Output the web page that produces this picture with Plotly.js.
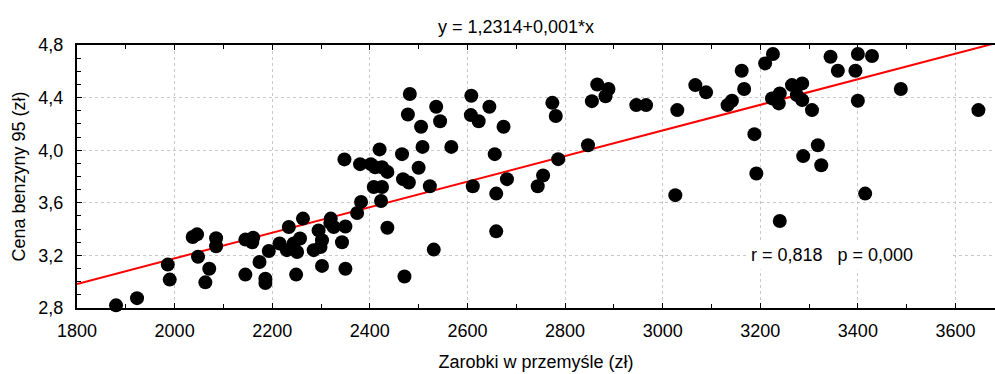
<!DOCTYPE html>
<html>
<head>
<meta charset="utf-8">
<script src="https://cdn.plot.ly/plotly-3.0.1.min.js"></script>
<style>html,body{margin:0;padding:0;background:#fff;}#chart{width:995px;height:374px;}</style>
</head>
<body>
<div id="chart"></div>
<script>
// Data
const wages = [
  1880, 1923, 1986, 1990, 2037, 2046, 2048, 2071, 2063, 2085, 2085,
  2145, 2145, 2161, 2159, 2174, 2186, 2186, 2193, 2215, 2234, 2230,
  2244, 2251, 2257, 2263, 2249, 2285, 2295, 2302, 2299, 2302,
  2320, 2326, 2319, 2343, 2350, 2350, 2348, 2374, 2382, 2380,
  2402, 2411, 2425, 2436, 2420, 2408, 2425, 2423, 2436,
  2466, 2468, 2480, 2471, 2482, 2478, 2500, 2505, 2508, 2523, 2531,
  2536, 2544, 2567, 2608, 2607, 2623, 2611, 2645, 2656, 2659, 2659,
  2674, 2681, 2744, 2755, 2774, 2781, 2786, 2847, 2855, 2866, 2883, 2889,
  2946, 2966, 3030, 3026, 3067, 3089, 3133, 3142, 3162, 3167, 3188, 3192,
  3210, 3226, 3224, 3240, 3238, 3240, 3265, 3286, 3275, 3286, 3306, 3288,
  3318, 3325, 3344, 3359, 3400, 3395, 3400, 3429, 3415, 3488, 3647
];
const prices = [
  2.82, 2.875, 3.13, 3.016, 3.34, 3.36, 3.19, 3.098, 2.995, 3.33, 3.27,
  3.054, 3.32, 3.335, 3.30, 3.15, 3.023, 2.99, 3.233, 3.29, 3.416, 3.24,
  3.29, 3.226, 3.328, 3.48, 3.054, 3.24, 3.39, 3.315, 3.264, 3.12,
  3.48, 3.416, 3.447, 3.30, 3.42, 3.099, 3.93, 3.523, 3.607, 3.894,
  3.894, 3.87, 3.87, 3.835, 4.006, 3.72, 3.72, 3.614, 3.41,
  3.97, 3.78, 3.754, 3.04, 4.427, 4.272, 3.866, 4.178, 4.025, 3.726, 3.244,
  4.33, 4.22, 4.025, 4.414, 4.267, 4.22, 3.726, 4.33, 3.97, 3.67, 3.383,
  4.178, 3.78, 3.726, 3.808, 4.36, 4.26, 3.932, 4.038, 4.373, 4.5, 4.41, 4.465,
  4.343, 4.343, 4.305, 3.658, 4.495, 4.44, 4.343, 4.376, 4.604, 4.465, 4.122, 3.823,
  4.66, 4.731, 4.394, 4.432, 4.356, 3.462, 4.495, 4.508, 4.419, 4.381, 4.305, 3.955,
  4.038, 3.886, 4.711, 4.604, 4.731, 4.604, 4.376, 4.716, 3.67, 4.465, 4.305
];
// Regression line as printed /
const fitIntercept = 1.2314;
const fitSlope = 0.000973;
const fitX = [1800, 3700];
const fitY = fitX.map(x => fitIntercept + fitSlope * x);

const titleText = 'y = 1,2314+0,001*x';
const xTitle = 'Zarobki w przemyśle (zł)';
const yTitle = 'Cena benzyny 95 (zł)';
const statText = 'r = 0,818   p = 0,000';

const font = {family: 'Liberation Sans, Arial, sans-serif', size: 18, color: '#000'};

const traces = [
  {x: fitX, y: fitY, type: 'scatter', mode: 'lines',
   line: {color: '#ff0000', width: 2}, hoverinfo: 'skip', cliponaxis: true},
  {x: wages, y: prices, type: 'scatter', mode: 'markers',
   marker: {color: '#000', size: 14, line: {width: 0}}, cliponaxis: false}
];

const layout = {
  width: 995, height: 374,
  margin: {l: 77, r: 0, t: 45, b: 66},
  paper_bgcolor: '#fff', plot_bgcolor: '#fff',
  font: font,
  separators: ', ',
  showlegend: false,
  title: {text: titleText, font: font, x: 516/995, xanchor: 'center', xref: 'container',
          y: 1 - 27/374, yanchor: 'middle', yref: 'container'},
  xaxis: {
    range: [1800, 3681], tickmode: 'linear', tick0: 1800, dtick: 200,
    showline: true, linecolor: '#000', linewidth: 2, mirror: 'ticks',
    ticks: 'inside', ticklen: 5, tickcolor: '#000', tickwidth: 1,
    minor: {dtick: 100, ticks: 'inside', ticklen: 4, tickcolor: '#000', showgrid: false},
    showgrid: true, gridcolor: '#c8c8c8', griddash: 'dot', gridwidth: 1,
    zeroline: false, ticklabelstandoff: 5,
    tickfont: font,
    title: {text: xTitle, font: font, standoff: 16}
  },
  yaxis: {
    range: [2.8, 4.8], tickmode: 'linear', tick0: 2.8, dtick: 0.4, tickformat: '.1f',
    showline: true, linecolor: '#000', linewidth: 2, mirror: false,
    ticks: 'inside', ticklen: 5, tickcolor: '#000', tickwidth: 1,
    minor: {dtick: 0.1, ticks: 'inside', ticklen: 4, tickcolor: '#000', showgrid: false},
    showgrid: true, gridcolor: '#c8c8c8', griddash: 'dot', gridwidth: 1,
    zeroline: false, ticklabelstandoff: 8,
    tickfont: font,
    title: {text: yTitle, font: font, standoff: 8}
  },
  annotations: [{
    text: statText + '\u00a0\u00a0\u00a0\u00a0\u00a0\u00a0\u00a0',
    x: 3170, y: 3.2, xref: 'x', yref: 'y', xanchor: 'left', yanchor: 'middle',
    showarrow: false, bgcolor: '#fff', borderpad: 4, font: font
  }]
};

Plotly.newPlot('chart', traces, layout, {staticPlot: true, displayModeBar: false});
</script>
</body>
</html>
